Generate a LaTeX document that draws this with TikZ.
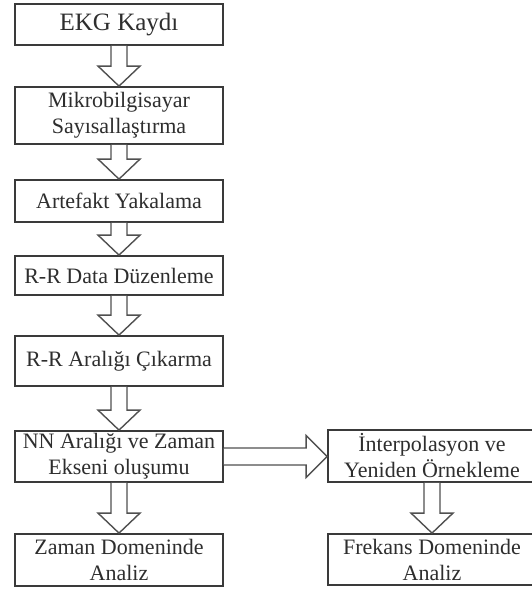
\documentclass[tikz,border=0pt]{standalone}
\usepackage{fontspec}
\setmainfont{Liberation Serif}
\usetikzlibrary{calc}
\definecolor{boxline}{HTML}{3A3A3A}
\definecolor{txt}{HTML}{2E2E2E}
\definecolor{arrline}{HTML}{505050}
\tikzset{
  stepbox/.style={draw=boxline, line width=1.8pt, fill=white, minimum width=208pt, inner sep=0pt, align=center, text=txt, font=\fontsize{22}{26}\selectfont},
  blockarrow/.style={draw=arrline, line width=1.4pt, fill=white, line join=miter}
}
\newcommand\blockdown[2]{%
  \draw[blockarrow] let \p1=(#1.south), \p2=(#2.north) in
    (\x1-8pt,\y1) -- (\x1-8pt,\y2+20pt) -- (\x1-21pt,\y2+20pt) -- (\x1,\y2)
    -- (\x1+21pt,\y2+20pt) -- (\x1+8pt,\y2+20pt) -- (\x1+8pt,\y1);}
\begin{document}
\begin{tikzpicture}[x=1pt,y=-1pt]
\useasboundingbox (0,0) rectangle (531,589);
\node[stepbox, minimum height=41pt, font=\fontsize{25}{28}\selectfont] (ekg) at (119,24.5) {EKG Kaydı};
\node[stepbox, minimum height=57pt] (mik) at (119,115.5) {Mikrobilgisayar\\Sayısallaştırma};
\node[stepbox, minimum height=42pt] (art) at (119,201) {Artefakt Yakalama};
\node[stepbox, minimum height=39pt] (rrd) at (119,275.5) {R-R Data Düzenleme};
\node[stepbox, minimum height=50pt] (rra) at (119,361) {R-R Aralığı Çıkarma};
\node[stepbox, minimum height=51pt] (nn) at (119,456.5) {NN Aralığı ve Zaman\\Ekseni oluşumu};
\node[stepbox, minimum height=52pt] (zam) at (119,560) {Zaman Domeninde\\Analiz};
\node[stepbox, minimum height=52pt] (int) at (432,456) {İnterpolasyon ve\\Yeniden Örnekleme};
\node[stepbox, minimum height=51pt] (fre) at (432,559.5) {Frekans Domeninde\\Analiz};
\blockdown{ekg}{mik}
\blockdown{mik}{art}
\blockdown{art}{rrd}
\blockdown{rrd}{rra}
\blockdown{rra}{nn}
\blockdown{nn}{zam}
\blockdown{int}{fre}
\draw[blockarrow] let \p1=(nn.east), \p2=(int.west) in
  (\x1,\y1+8.5pt) -- (\x2-21pt,\y1+8.5pt) -- (\x2-21pt,\y1+21pt) -- (\x2,\y1)
  -- (\x2-21pt,\y1-21pt) -- (\x2-21pt,\y1-8.5pt) -- (\x1,\y1-8.5pt);
\end{tikzpicture}
\end{document}
